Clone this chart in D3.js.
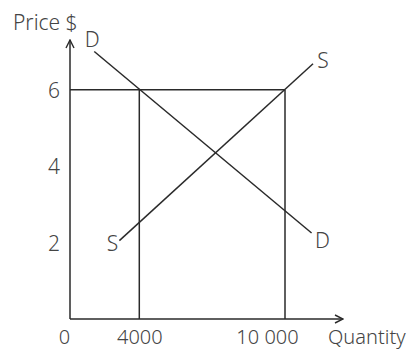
<!DOCTYPE html>
<html>
<head>
<meta charset="utf-8">
<script src="https://cdn.jsdelivr.net/npm/d3@7"></script>
<style>
  body { margin: 0; background: #fff; }
  text { font-family: "Noto Sans", sans-serif; font-weight: 300; fill: #444; }
</style>
</head>
<body>
<div id="chart"></div>
<script>
// Angebot/Nachfrage-Schema
const priceTicks = [2, 4, 6];
const qtyTicks = [0, 4000, 10000];
const qtyLabels = ["0", "4000", "10 000"];

// Linien als [Menge, Preis]
const demand = [[1400, 7.0], [11100, 2.25]];
const supply = [[2850, 2.05], [11160, 6.68]];
const marketPrice = 6;
const qtyMarks = [4000, 10000];

const W = 413, H = 349;
const FS = "21px";
const svg = d3.select("#chart").append("svg")
  .attr("width", W)
  .attr("height", H);

// Skalen (Achse ist schematisch, daher stückweise linear)
const x = d3.scaleLinear()
  .domain([0, 4000, 10000, 12400])
  .range([70, 139.3, 285, 343]);
const y = d3.scaleLinear()
  .domain([0, 7.3])
  .range([319, 40]);

const ink = "#2a2a2a";

// Pfeilspitze
svg.append("defs").append("marker")
  .attr("id", "arrow")
  .attr("viewBox", "0 0 10 10")
  .attr("refX", 9).attr("refY", 5)
  .attr("markerWidth", 10).attr("markerHeight", 10)
  .attr("markerUnits", "userSpaceOnUse")
  .attr("orient", "auto")
  .append("path")
  .attr("d", "M1,1 L9,5 L1,9")
  .attr("fill", "none")
  .attr("stroke", ink)
  .attr("stroke-width", 1.4);

// Achsen
svg.append("line")
  .attr("x1", x(0)).attr("x2", x(0))
  .attr("y1", y(0)).attr("y2", y.range()[1])
  .attr("stroke", ink).attr("stroke-width", 1.5)
  .attr("marker-end", "url(#arrow)");
svg.append("line")
  .attr("x1", x(0)).attr("x2", x.range()[3])
  .attr("y1", y(0)).attr("y2", y(0))
  .attr("stroke", ink).attr("stroke-width", 1.5)
  .attr("marker-end", "url(#arrow)");

// Tick-Beschriftungen
const gy = svg.append("g")
  .attr("transform", `translate(${x(0)},0)`)
  .call(d3.axisLeft(y).tickValues(priceTicks).tickSize(0).tickPadding(10));
gy.select(".domain").remove();
gy.selectAll(".tick text").attr("dy", "0.36em");

const gx = svg.append("g")
  .attr("transform", `translate(0,${y(0)})`)
  .call(d3.axisBottom(x).tickValues(qtyTicks).tickSize(0)
    .tickFormat((d, i) => qtyLabels[i]));
gx.select(".domain").remove();
gx.selectAll(".tick text").attr("y", 25).attr("dy", 0);
gx.selectAll(".tick text").filter(d => d === 0).attr("dx", -6);
gx.selectAll(".tick text").filter(d => d === 10000).attr("dx", -18);

svg.selectAll(".tick text")
  .style("font-family", '"Noto Sans", sans-serif')
  .style("font-weight", 300)
  .style("font-size", FS)
  .style("fill", "#444");
gx.selectAll(".tick text").style("font-size", "20px");

// Hilfslinien
svg.append("line")
  .attr("x1", x(0)).attr("x2", x(qtyMarks[1]))
  .attr("y1", y(marketPrice)).attr("y2", y(marketPrice))
  .attr("stroke", ink).attr("stroke-width", 1.5);
svg.selectAll(".qmark")
  .data(qtyMarks)
  .join("line")
  .attr("x1", d => x(d)).attr("x2", d => x(d))
  .attr("y1", y(marketPrice)).attr("y2", y(0))
  .attr("stroke", ink).attr("stroke-width", 1.5);

// Kurven
const line = d3.line().x(d => x(d[0])).y(d => y(d[1]));
[demand, supply].forEach(s => {
  svg.append("path")
    .attr("d", line(s))
    .attr("fill", "none")
    .attr("stroke", ink)
    .attr("stroke-width", 1.5);
});

// Kurvenbeschriftungen
function lab(t, px, py, anchor) {
  svg.append("text")
    .attr("x", px).attr("y", py)
    .attr("text-anchor", anchor || "middle")
    .attr("dominant-baseline", "central")
    .style("font-size", FS)
    .text(t);
}
lab("D", x(demand[0][0]) - 2, y(demand[0][1]) - 12);
lab("D", x(demand[1][0]) + 11, y(demand[1][1]) + 7);
lab("S", x(supply[0][0]) - 7, y(supply[0][1]) + 2);
lab("S", x(supply[1][0]) + 10, y(supply[1][1]) - 4);

// Achsentitel
lab("Price $", 13, 22, "start");
svg.append("text")
  .attr("x", 328).attr("y", 344)
  .style("font-size", "20px")
  .text("Quantity");
</script>
</body>
</html>
